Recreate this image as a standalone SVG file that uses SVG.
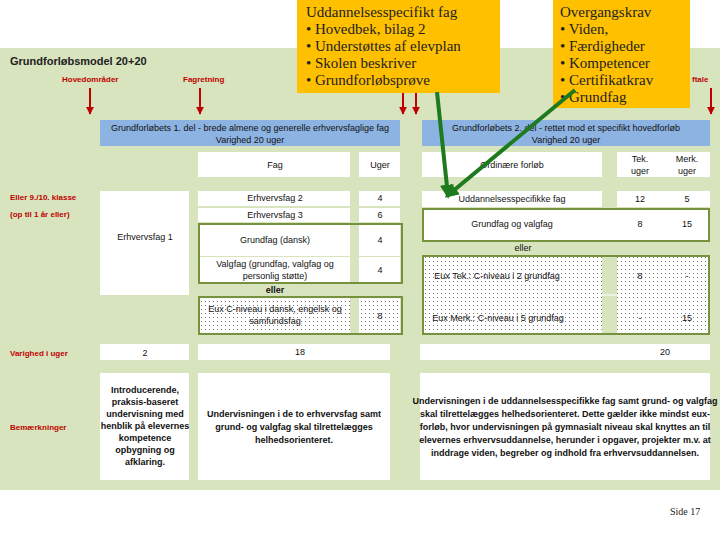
<svg xmlns="http://www.w3.org/2000/svg" width="720" height="540" viewBox="0 0 720 540">
<defs>
<pattern id="dots" width="4" height="4" patternUnits="userSpaceOnUse"><rect width="4" height="4" fill="#fff"/><rect x="1" y="1" width="1" height="1" fill="#777"/></pattern>
<marker id="ra" viewBox="0 0 10 10" refX="9" refY="5" markerWidth="4" markerHeight="4" orient="auto"><path d="M0,0 L10,5 L0,10 z" fill="#c00000"/></marker>
<marker id="ga" viewBox="0 0 10 10" refX="8" refY="5" markerWidth="3.5" markerHeight="3.5" orient="auto"><path d="M0,0 L10,5 L0,10 z" fill="#1e7a1e"/></marker>
<style>
.t{font-family:"Liberation Sans",Arial,sans-serif;font-size:9px;fill:#111;text-anchor:middle}
.b{font-weight:bold}
.r{font-family:"Liberation Sans",Arial,sans-serif;font-size:8px;fill:#c00000;font-weight:bold}
.w{fill:#fff}
.blue{fill:#8db3e2}
.gb{fill:none;stroke:#76923c;stroke-width:2}
.c{font-family:"Liberation Serif","DejaVu Serif",serif;font-size:15px;fill:#222}
.ra{stroke:#c00000;stroke-width:2;marker-end:url(#ra)}
.ga{stroke:#1e7a1e;stroke-width:4;fill:none;marker-end:url(#ga)}
</style>
</defs>
<rect width="720" height="540" fill="#fff"/>
<rect x="0" y="48" width="720" height="442" fill="#d7e4bd"/>
<text x="10" y="65" style="font-family:'Liberation Sans',sans-serif;font-size:11px;font-weight:bold;fill:#222">Grundforløbsmodel 20+20</text>
<text x="62" y="82" class="r">Hovedområder</text>
<text x="183" y="82" class="r">Fagretning</text>
<text x="692" y="82" class="r">ftale</text>
<g id="redarrows">
<line x1="90" y1="88" x2="90" y2="114" class="ra"/>
<line x1="200" y1="88" x2="200" y2="114" class="ra"/>
<line x1="403" y1="88" x2="403" y2="114" class="ra"/>
<line x1="416" y1="88" x2="416" y2="114" class="ra"/>
<line x1="711" y1="88" x2="711" y2="114" class="ra"/>
</g>
<g id="part1">
<rect x="100" y="120" width="300" height="26" class="blue"/>
<text x="250" y="131" class="t">Grundforløbets 1. del - brede almene og generelle erhvervsfaglige fag</text>
<text x="250" y="143" class="t">Varighed 20 uger</text>
<rect x="198" y="152" width="152" height="25" class="w"/><text x="275" y="168" class="t">Fag</text>
<rect x="359" y="152" width="41" height="25" class="w"/><text x="380" y="168" class="t">Uger</text>
<text x="10" y="200" class="r">Eller 9./10. klasse</text>
<text x="10" y="217" class="r">(op til 1 år eller)</text>
<rect x="100" y="191" width="89" height="104" class="w"/><text x="145" y="240" class="t">Erhvervsfag 1</text>
<rect x="198" y="191" width="152" height="15" class="w"/><text x="275" y="201" class="t">Erhvervsfag 2</text>
<rect x="359" y="191" width="41" height="15" class="w"/><text x="380" y="201" class="t">4</text>
<rect x="198" y="208" width="152" height="14" class="w"/><text x="275" y="218" class="t">Erhvervsfag 3</text>
<rect x="359" y="208" width="41" height="14" class="w"/><text x="380" y="218" class="t">6</text>
<rect x="198" y="223" width="152" height="33" class="w"/><text x="275" y="243" class="t">Grundfag (dansk)</text>
<rect x="359" y="223" width="41" height="33" class="w"/><text x="380" y="243" class="t">4</text>
<rect x="198" y="257" width="152" height="26" class="w"/><text x="275" y="267" class="t">Valgfag (grundfag, valgfag og</text><text x="275" y="279" class="t">personlig støtte)</text>
<rect x="359" y="257" width="41" height="26" class="w"/><text x="380" y="273" class="t">4</text>
<rect x="199" y="224" width="203" height="59" class="gb"/>
<text x="275" y="293" class="t b">eller</text>
<rect x="198" y="297" width="152" height="37" fill="url(#dots)"/>
<rect x="359" y="297" width="41" height="37" fill="url(#dots)"/>
<rect x="199" y="297" width="203" height="37" class="gb"/>
<text x="275" y="312" class="t">Eux C-niveau i dansk, engelsk og</text><text x="275" y="324" class="t">samfundsfag</text>
<text x="380" y="319" class="t">8</text>
</g>
<g id="part2">
<rect x="422" y="120" width="288" height="26" class="blue"/>
<text x="566" y="131" class="t">Grundforløbets 2. del - rettet mod et specifikt hovedforløb</text>
<text x="566" y="143" class="t">Varighed 20 uger</text>
<rect x="422" y="152" width="180" height="25" class="w"/><text x="512" y="168" class="t">Ordinære forløb</text>
<rect x="617" y="152" width="93" height="25" class="w"/>
<text x="640" y="162" class="t">Tek.</text><text x="640" y="174" class="t">uger</text>
<text x="687" y="162" class="t">Merk.</text><text x="687" y="174" class="t">uger</text>
<rect x="422" y="191" width="180" height="16" class="w"/><text x="512" y="202" class="t">Uddannelsesspecifikke fag</text>
<rect x="617" y="191" width="93" height="16" class="w"/><text x="640" y="202" class="t">12</text><text x="687" y="202" class="t">5</text>
<rect x="422" y="208" width="288" height="33" class="w"/>
<rect x="423" y="209" width="286" height="32" class="gb"/>
<text x="512" y="227" class="t">Grundfag og valgfag</text><text x="640" y="227" class="t">8</text><text x="687" y="227" class="t">15</text>
<text x="523" y="251" class="t">eller</text>
<rect x="422" y="256" width="180" height="78" fill="url(#dots)"/>
<rect x="617" y="256" width="93" height="78" fill="url(#dots)"/>
<line x1="422" y1="295" x2="710" y2="295" stroke="#fff" stroke-width="1"/>
<rect x="423" y="256" width="286" height="78" class="gb"/>
<text x="497" y="279" class="t">Eux Tek.: C-niveau i 2 grundfag</text><text x="640" y="279" class="t">8</text><text x="687" y="279" class="t">-</text>
<text x="498" y="321" class="t">Eux Merk.: C-niveau i 5 grundfag</text><text x="640" y="321" class="t">-</text><text x="687" y="321" class="t">15</text>
</g>
<g id="varighed">
<text x="10" y="356" class="r">Varighed i uger</text>
<rect x="100" y="344" width="89" height="16" class="w"/><text x="145" y="356" class="t">2</text>
<rect x="198" y="344" width="192" height="16" class="w"/><text x="300" y="355" class="t">18</text>
<rect x="420" y="344" width="290" height="16" class="w"/><text x="665" y="355" class="t">20</text>
</g>
<g id="bem">
<text x="10" y="430" class="r">Bemærkninger</text>
<rect x="100" y="373" width="89" height="107" class="w"/>
<text class="t b" font-size="8.5"><tspan x="145" y="393">Introducerende,</tspan><tspan x="145" y="405">praksis-baseret</tspan><tspan x="145" y="417">undervisning med</tspan><tspan x="145" y="429">henblik på elevernes</tspan><tspan x="145" y="441">kompetence</tspan><tspan x="145" y="453">opbygning og</tspan><tspan x="145" y="465">afklaring.</tspan></text>
<rect x="198" y="373" width="192" height="107" class="w"/>
<text class="t b" font-size="8.5"><tspan x="294" y="417">Undervisningen i de to erhvervsfag samt</tspan><tspan x="294" y="430">grund- og valgfag skal tilrettelægges</tspan><tspan x="294" y="443">helhedsorienteret.</tspan></text>
<rect x="420" y="373" width="290" height="107" class="w"/>
<text class="t b" font-size="8"><tspan x="565" y="404">Undervisningen i de uddannelsesspecifikke fag samt grund- og valgfag</tspan><tspan x="565" y="417">skal tilrettelægges helhedsorienteret. Dette gælder ikke mindst eux-</tspan><tspan x="565" y="430">forløb, hvor undervisningen på gymnasialt niveau skal knyttes an til</tspan><tspan x="565" y="443">elevernes erhvervsuddannelse, herunder i opgaver, projekter m.v. at</tspan><tspan x="565" y="456">inddrage viden, begreber og indhold fra erhvervsuddannelsen.</tspan></text>
</g>
<g id="callout1">
<rect x="297" y="0" width="203" height="93" fill="#ffc000"/>
<text class="c"><tspan x="306" y="17">Uddannelsesspecifikt fag</tspan><tspan x="306" y="34">• Hovedbek, bilag 2</tspan><tspan x="306" y="51">• Understøttes af elevplan</tspan><tspan x="306" y="68">• Skolen beskriver</tspan><tspan x="306" y="85">• Grundforløbsprøve</tspan></text>
</g>
<g id="callout2">
<rect x="553" y="0" width="137" height="108" fill="#ffc000"/>
<text class="c"><tspan x="560" y="17">Overgangskrav</tspan><tspan x="560" y="34">• Viden,</tspan><tspan x="560" y="51">• Færdigheder</tspan><tspan x="560" y="68">• Kompetencer</tspan><tspan x="560" y="85">• Certifikatkrav</tspan><tspan x="560" y="102">• Grundfag</tspan></text>
</g>
<g id="connectors">
<line x1="437" y1="92" x2="448" y2="196" class="ga"/>
<line x1="575" y1="90" x2="447" y2="196" class="ga"/>
</g>
<text x="670" y="515" style="font-family:'Liberation Serif',serif;font-size:10px;fill:#222">Side 17</text>
</svg>
